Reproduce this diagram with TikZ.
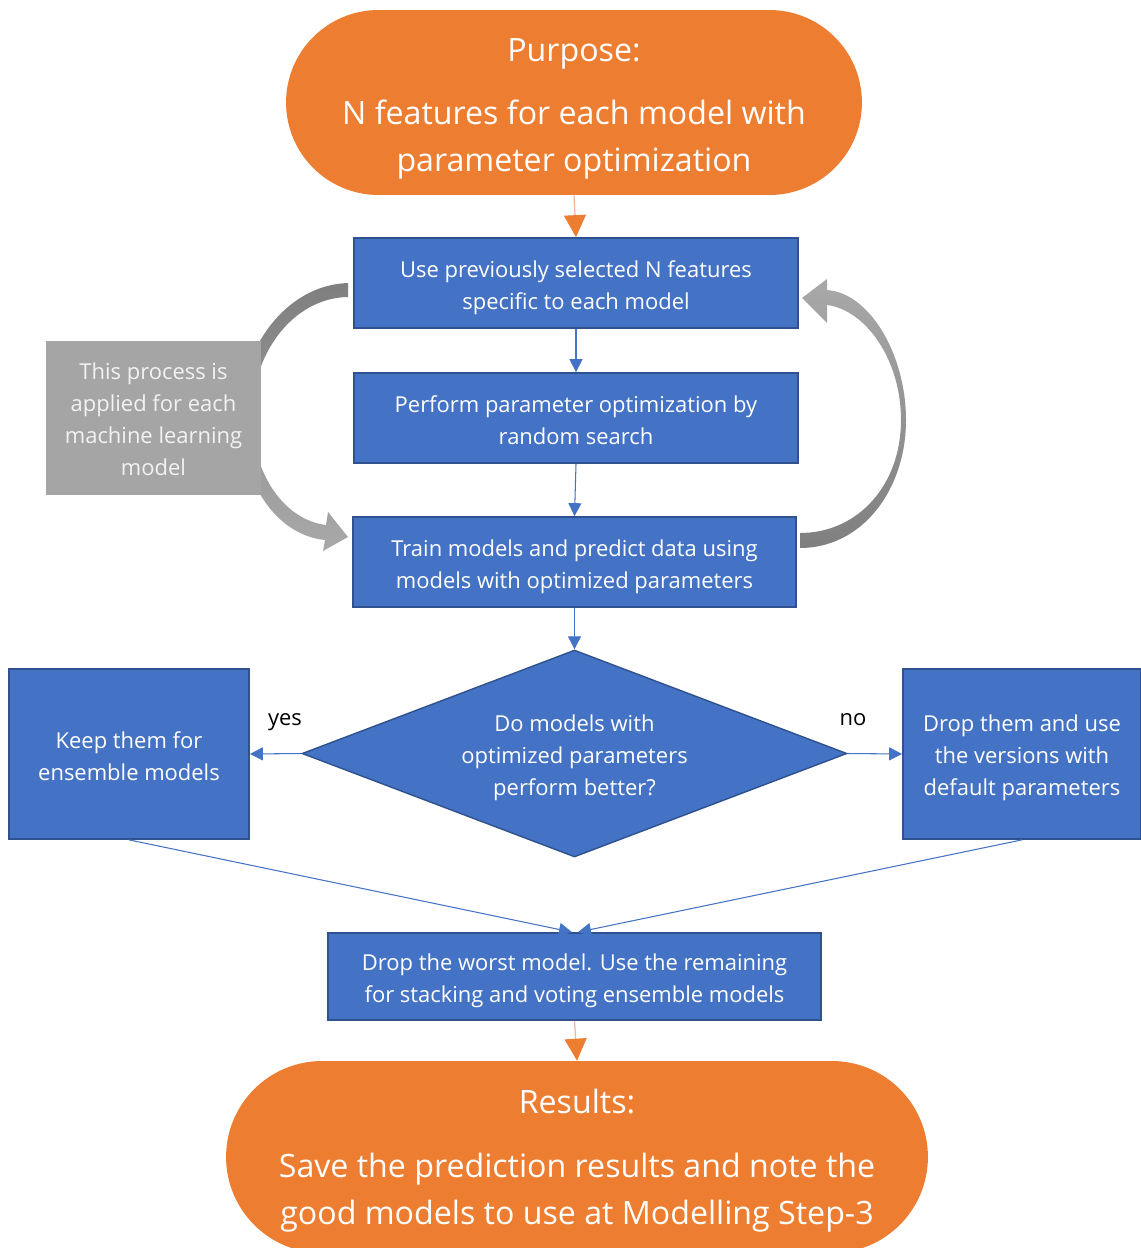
\documentclass[tikz,border=0pt]{standalone}
\usepackage{fontspec}
\setmainfont{Open Sans}
\usetikzlibrary{shapes.geometric,shapes.misc,arrows.meta}

\definecolor{boxblue}{HTML}{4472C4}
\definecolor{boxedge}{HTML}{2F528F}
\definecolor{termorange}{HTML}{ED7D31}
\definecolor{orangestem}{HTML}{EDB59A}
\definecolor{notegray}{HTML}{A5A5A5}
\definecolor{loopdark}{HTML}{7F7F7F}
\definecolor{looplight}{HTML}{A9A9A9}

% centred lines, set a little lower than the box centre
\newcommand\lowered[2][0.08cm]{%
  \raisebox{-#1}[\height][\depth]{\begin{tabular}{@{}c@{}}#2\end{tabular}}}

\tikzset{
  stepbox/.style={rectangle, draw=boxedge, line width=1pt, fill=boxblue,
    text=white, inner sep=0pt, font=\fontsize{12.5}{18.1}\selectfont},
  decisionbox/.style={diamond, aspect=2.63, draw=boxedge, line width=0.8pt,
    fill=boxblue, text=white, inner sep=0pt,
    font=\fontsize{12.5}{18.1}\selectfont},
  terminal/.style={rounded rectangle, fill=termorange, draw=none,
    text=white, inner sep=0pt, font=\fontsize{18.3}{26.7}\selectfont},
  notebox/.style={rectangle, fill=notegray, draw=none, text=white!95!black,
    inner sep=0pt, font=\fontsize{12.5}{18.1}\selectfont},
  flow/.style={draw=boxblue, line width=0.6pt,
    -{Triangle[length=0.26cm,width=0.26cm]}},
  termflow/.style={draw=orangestem, line width=0.7pt,
    -{Triangle[length=0.44cm,width=0.44cm,color=termorange,fill=termorange]}},
  answer/.style={text=black, font=\fontsize{12.5}{15}\selectfont, inner sep=0pt},
}

\begin{document}
\begin{tikzpicture}[x=0.02cm, y=-0.02cm]
\useasboundingbox (0,0) rectangle (1141,1248);

% loop arrows (drawn first so the note box covers the left one)
\path[top color=loopdark, bottom color=looplight, draw=none]
  (348,283) .. controls (285,285) and (240,350) .. (240,415)
  .. controls (240,480) and (275,535) .. (325,540)
  -- (323,551) -- (348,537) -- (328,512) -- (326,525)
  .. controls (285,520) and (252,475) .. (252,415)
  .. controls (252,355) and (292,298) .. (348,297) -- cycle;
\path[top color=looplight, bottom color=loopdark, draw=none]
  (800,548) .. controls (862,548) and (906,490) .. (906,420)
  .. controls (906,355) and (870,293) .. (827,290)
  -- (827,279) -- (802,298) -- (827,323) -- (827,305)
  .. controls (866,310) and (901,360) .. (901,420)
  .. controls (901,485) and (858,533) .. (800,533) -- cycle;

% terminals
\node[terminal, minimum width=11.52cm, minimum height=3.7cm] (purpose) at (574,102.5)
  {\lowered[0.09cm]{Purpose:\\[9.6pt] N features for each model with\\ parameter optimization}};
\node[terminal, minimum width=14.04cm, minimum height=3.84cm] (results) at (577,1157)
  {\lowered[0.05cm]{Results:\\[9.6pt] Save the prediction results and note the\\ good models to use at Modelling Step-3}};

% process steps
\node[stepbox, minimum width=8.88cm, minimum height=1.8cm] (features) at (576,283)
  {\lowered{Use previously selected N features\\ specific to each model}};
\node[stepbox, minimum width=8.88cm, minimum height=1.8cm] (search) at (576,418)
  {\lowered{Perform parameter optimization by\\ random search}};
\node[stepbox, minimum width=8.86cm, minimum height=1.8cm] (train) at (574.5,562)
  {\lowered{Train models and predict data using\\ models with optimized parameters}};
\node[decisionbox, minimum width=10.9cm, minimum height=4.14cm] (better) at (574.5,753.5)
  {\lowered[0.07cm]{Do models with\\ optimized parameters\\ perform better?}};
\node[stepbox, minimum width=4.8cm, minimum height=3.4cm] (keep) at (129,754)
  {\lowered[0.08cm]{Keep them for\\ ensemble models}};
\node[stepbox, minimum width=4.76cm, minimum height=3.4cm] (default) at (1022,754)
  {\lowered[0.06cm]{Drop them and use\\ the versions with\\ default parameters}};
\node[stepbox, minimum width=9.86cm, minimum height=1.74cm] (worst) at (574.5,976.5)
  {\lowered{Drop the worst model. Use the remaining\\ for stacking and voting ensemble models}};

% side note
\node[notebox, minimum width=4.3cm, minimum height=3.08cm] (note) at (153.5,418)
  {\lowered[0.06cm]{This process is\\ applied for each\\ machine learning\\ model}};

% answer labels
\node[answer] (yeslabel) at (285,722) {yes};
\node[answer] (nolabel) at (853,720) {no};

% connectors
\draw[termflow] (purpose.south) -- (features.north);
\draw[flow] (features.south) -- (search.north);
\draw[flow] (search.south) -- (train.north);
\draw[flow] (train.south) -- (better.north);
\draw[flow] (better.west) -- (keep.east);
\draw[flow] (better.east) -- (default.west);
\draw[flow] (keep.south) -- ([xshift=-0.05cm]worst.north);
\draw[flow] (default.south) -- ([xshift=0.07cm]worst.north);
\draw[termflow] (worst.south) -- (results.north);
\end{tikzpicture}
\end{document}
